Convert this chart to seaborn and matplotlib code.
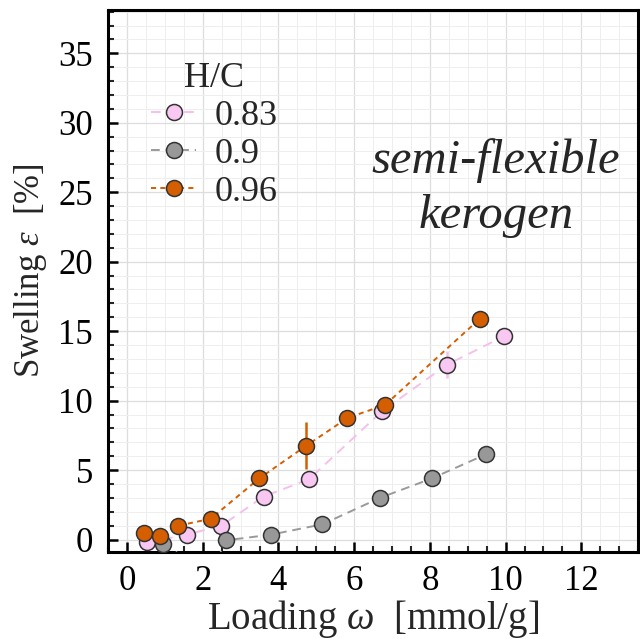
import numpy as np
import pandas as pd
import matplotlib
matplotlib.use("Agg")
import matplotlib.pyplot as plt
from matplotlib.ticker import MultipleLocator
import seaborn as sns

# ---- data ----
hc_labels = ["0.83", "0.9", "0.96"]

x_083 = [0.52, 1.57, 2.49, 3.61, 4.81, 6.74, 8.46, 9.97]
y_083 = [-0.2, 0.35, 1.0, 3.1, 4.35, 9.25, 12.6, 14.65]
e_083 = [0, 0, 0, 0, 0, 0, 1.0, 0]

x_090 = [0.96, 2.2, 2.62, 3.79, 5.16, 6.68, 8.05, 9.49]
y_090 = [-0.3, -2.5, -0.05, 0.35, 1.1, 3.0, 4.4, 6.15]
e_090 = [0, 0, 0, 0, 0, 0, 0, 0]

x_096 = [0.46, 0.87, 1.35, 2.21, 3.49, 4.73, 5.82, 6.82, 9.32]
y_096 = [0.45, 0.25, 1.0, 1.5, 4.4, 6.75, 8.75, 9.7, 15.9]
e_096 = [0, 0, 0, 0, 0, 1.7, 0, 0, 0]

xticks = [0, 2, 4, 6, 8, 10, 12]
yticks = [0, 5, 10, 15, 20, 25, 30, 35]

colors = {"0.83": "#F8C8F2", "0.9": "#989898", "0.96": "#D55E00"}
line_colors = {"0.83": "#F5C0EC", "0.9": "#9A9A9A", "0.96": "#D55E00"}
dash_map = {"0.83": (5, 3.5), "0.9": (4.5, 3), "0.96": (2.6, 2.2)}

series = {"0.83": (x_083, y_083, e_083),
          "0.9": (x_090, y_090, e_090),
          "0.96": (x_096, y_096, e_096)}

rows = []
for lab in hc_labels:
    xs, ys, es = series[lab]
    for xv, yv, ev in zip(xs, ys, es):
        rows.append({"x": xv, "y": yv, "err": ev, "H/C": lab})
df = pd.DataFrame(rows)

# ---- style ----
sns.set_theme(style="ticks")
plt.rcParams["font.family"] = ["Liberation Serif", "DejaVu Serif"]
plt.rcParams["mathtext.fontset"] = "custom"
plt.rcParams["mathtext.rm"] = "Liberation Serif"
plt.rcParams["mathtext.it"] = "Liberation Serif:italic"

fig = plt.figure(figsize=(6.4, 6.39), dpi=100)
ax = fig.add_axes([0.169, 0.136, 0.828, 0.848])

# error bars
for lab in hc_labels:
    sub = df[(df["H/C"] == lab) & (df["err"] > 0)]
    if len(sub):
        ax.errorbar(sub["x"], sub["y"], yerr=sub["err"], fmt="none",
                    ecolor=line_colors[lab], elinewidth=1.8, capsize=0, zorder=2)

for lab in hc_labels:
    sub = df[df["H/C"] == lab]
    sns.lineplot(data=sub, x="x", y="y", ax=ax, sort=False, estimator=None,
                 color=line_colors[lab], linewidth=1.4, marker="o",
                 markersize=11.5, markerfacecolor=colors[lab],
                 markeredgecolor="#333333", markeredgewidth=1.1,
                 label=lab, zorder=3)
    ax.lines[-1].set_dashes(dash_map[lab])

ax.set_xlim(-0.5, 13.5)
ax.set_ylim(-0.9, 38.1)
ax.set_xticks(xticks)
ax.set_yticks(yticks)
ax.xaxis.set_minor_locator(MultipleLocator(0.5))
ax.yaxis.set_minor_locator(MultipleLocator(1))
ax.grid(which="major", color="#DDDDDD", linewidth=0.9)
ax.grid(which="minor", color="#EEEEEE", linewidth=0.7)
ax.set_axisbelow(True)

for sp in ax.spines.values():
    sp.set_linewidth(2.2)
    sp.set_color("black")
ax.tick_params(which="major", direction="in", length=7, width=1.8,
               labelsize=25, colors="black", top=False, right=False)
ax.tick_params(axis="x", which="major", pad=9)
ax.tick_params(axis="y", which="major", pad=11)
ax.tick_params(which="minor", direction="in", length=4, width=1.5,
               top=False, right=False)

ax.set_xlabel(r"Loading $\omega$  [mmol/g]", fontsize=28, labelpad=0)
ax.set_ylabel(r"Swelling $\varepsilon$  [%]", fontsize=25)
ax.yaxis.set_label_coords(-0.112, 0.52)

ax.text(9.75, 27.3, "semi-flexible", fontsize=35, style="italic",
        ha="center", va="center")
ax.text(9.75, 23.3, "kerogen", fontsize=35, style="italic",
        ha="center", va="center")

leg = ax.legend(title="H/C", loc="upper left", bbox_to_anchor=(0.04, 0.945),
                frameon=False, fontsize=26, title_fontsize=26,
                handlelength=1.25, handletextpad=0.5, labelspacing=0.13,
                borderaxespad=0.2)

fig.savefig("out.png", dpi=100)
